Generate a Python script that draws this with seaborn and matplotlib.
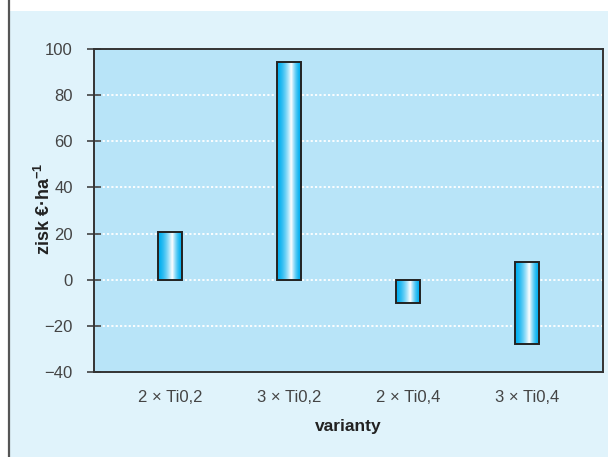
import numpy as np
import pandas as pd
import seaborn as sns
import matplotlib
matplotlib.use("Agg")
import matplotlib.pyplot as plt
from matplotlib.patches import Rectangle
from matplotlib.lines import Line2D
from matplotlib import font_manager

# Profit range per variant (EUR per hectare)
varianty = ["2 × Ti0,2", "3 × Ti0,2", "2 × Ti0,4", "3 × Ti0,4"]
zisk_od = [0, 0, -10, -28]
zisk_do = [20.5, 94.5, 0, 7.5]
y_ticks = [-40, -20, 0, 20, 40, 60, 80, 100]

df = pd.DataFrame({"varianta": varianty, "od": zisk_od, "do": zisk_do})
df["rozpeti"] = df["do"] - df["od"]

sns.set_theme(style="white")
installed = {f.name for f in font_manager.fontManager.ttflist}
families = [f for f in ["Liberation Sans Narrow", "Liberation Sans", "DejaVu Sans"] if f in installed]
plt.rcParams["font.family"] = families + ["DejaVu Sans"]
plt.rcParams["axes.unicode_minus"] = True
plt.rcParams["mathtext.fontset"] = "custom"
plt.rcParams["mathtext.rm"] = families[0]
plt.rcParams["mathtext.bf"] = families[0] + ":bold"

W, H = 608, 457
fig = plt.figure(figsize=(W / 100, H / 100), dpi=100, facecolor="white")

# pale panel behind the chart with a dark left border
fig.patches.append(Rectangle((8.5 / W, 0), 1, (H - 11) / H, transform=fig.transFigure,
                             facecolor="#e0f3fb", edgecolor="none", zorder=-5))
fig.add_artist(Line2D([8.5 / W, 8.5 / W], [0, 1], color="#555555", lw=1.6, zorder=-4))

ax_left, ax_right, ax_top, ax_bottom = 93.5, 603.3, 49.3, 371.7
ax = fig.add_axes([ax_left / W, (H - ax_bottom) / H, (ax_right - ax_left) / W,
                   (ax_bottom - ax_top) / H])
ax.set_zorder(1)
ax.set_facecolor("#b8e4f8")

sns.barplot(data=df, x="varianta", y="rozpeti", bottom=df["od"].to_numpy(),
            width=0.2, color="#00aeef", ax=ax, zorder=3)

# horizontal cylinder-like shading for the bars
n = 64
t = np.linspace(0, 1, n)
peak = 0.6
w = np.where(t < peak, t / peak, (1 - t) / (1 - peak))
w = np.clip(w, 0, 1) ** 1.6
blue = np.array([0, 174, 239]) / 255
white = np.array([1.0, 1.0, 1.0])
grad = blue[None, :] + (white - blue)[None, :] * w[:, None]
grad = grad[None, :, :]

for p in list(ax.patches):
    x0, y0 = p.get_x(), p.get_y()
    bw, bh = p.get_width(), p.get_height()
    shadow = Rectangle((x0 + 0.012, y0 - 0.6), bw, bh, facecolor="#6d8a99",
                       edgecolor="none", alpha=0.45, zorder=2.5)
    ax.add_patch(shadow)
    im = ax.imshow(grad, extent=(x0, x0 + bw, y0, y0 + bh), aspect="auto",
                   interpolation="bilinear", zorder=3.2)
    im.set_clip_path(p)
    p.set_facecolor("none")
    p.set_edgecolor("#222222")
    p.set_linewidth(1.4)
    p.set_zorder(3.5)

ax.set_xlim(-0.643, 3.643)
ax.set_ylim(-40, 100)
ax.set_yticks(y_ticks)
ax.set_yticklabels([f"{v}".replace("-", "\u2212") for v in y_ticks])

ax.set_axisbelow(True)
ax.yaxis.grid(True, color="white", linestyle=(0, (1.2, 1.2)), linewidth=1.3, zorder=1)
ax.xaxis.grid(False)

for s in ax.spines.values():
    s.set_visible(True)
    s.set_color("#333333")
    s.set_linewidth(1.4)

ax.tick_params(axis="y", left=True, direction="inout", length=10, width=1.1,
               color="#333333", pad=10, labelsize=12, labelcolor="#444444")
ax.tick_params(axis="x", bottom=False, length=0, pad=13, labelsize=12,
               labelcolor="#444444")

ax.set_xlabel("varianty", fontsize=12.5, fontweight="bold", color="#222222", labelpad=10)
ax.set_ylabel(r"zisk €·ha$^{\mathbf{-1}}$", fontsize=13, fontweight="bold",
              color="#222222")
ax.yaxis.set_label_coords((54 - ax_left) / (ax_right - ax_left),
                          (ax_bottom - 209) / (ax_bottom - ax_top))

fig.savefig("out.png", dpi=100, facecolor=fig.get_facecolor())
